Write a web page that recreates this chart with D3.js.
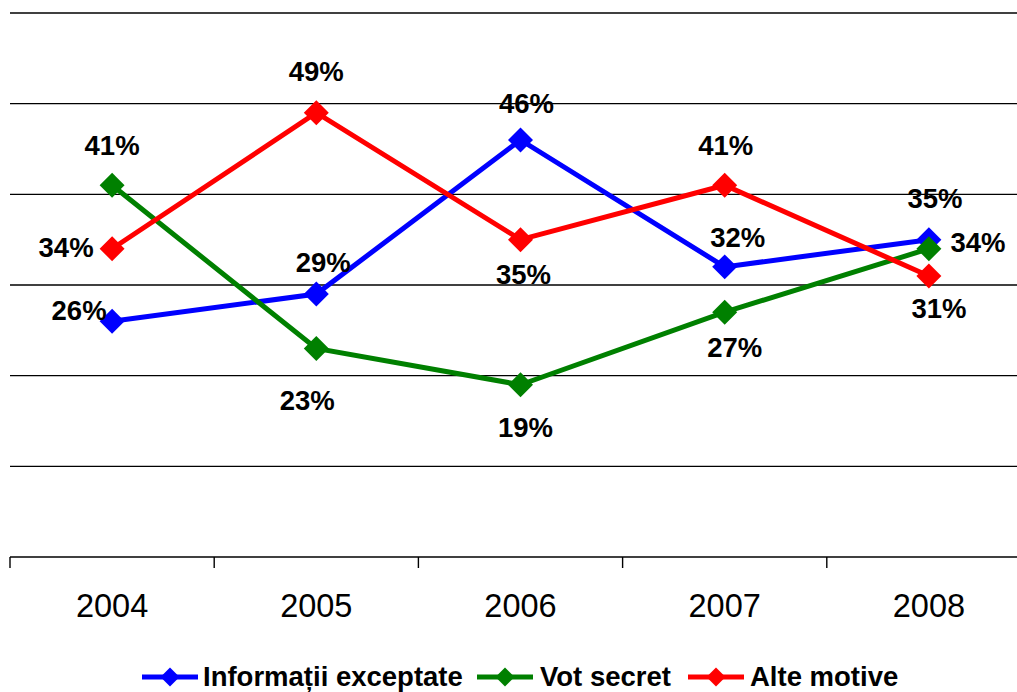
<!DOCTYPE html>
<html>
<head>
<meta charset="utf-8">
<script src="https://cdn.jsdelivr.net/npm/d3@7"></script>
<style>
  html, body { margin: 0; padding: 0; background: #fff; }
  svg { display: block; font-family: Arial, "Liberation Sans", sans-serif; }
</style>
</head>
<body>
<svg id="chart" width="1017" height="692"></svg>
<script>
// ---- data ----
const years = ["2004", "2005", "2006", "2007", "2008"];
const seriesNames = ["Informații exceptate", "Vot secret", "Alte motive"];
const informatiiExceptate = [26, 29, 46, 32, 35];
const votSecret = [41, 23, 19, 27, 34];
const alteMotive = [34, 49, 35, 41, 31];
const yTicks = [0, 10, 20, 30, 40, 50, 60];

// ---- label layout (offset from point: dx, baseline dy) ----
const labelOffsets = [
  [[-33, -1], [7, -22], [6, -27], [13, -20], [6, -32]],
  [[0, -30], [-9, 62], [5, 52], [10, 45], [49, 3]],
  [[-46, 8], [0, -32], [3, 44], [1, -30], [10, 42]]
];
const colors = ["#0000FF", "#008000", "#FF0000"];

const series = [informatiiExceptate, votSecret, alteMotive].map((values, i) => ({
  name: seriesNames[i], values, color: colors[i], offsets: labelOffsets[i]
}));

const svg = d3.select("#chart");
const plot = { left: 10, right: 1031, top: 13, bottom: 557 };

const x = d3.scaleBand().domain(years).range([plot.left, plot.right]).padding(0);
const y = d3.scaleLinear().domain([0, 60]).range([plot.bottom, plot.top]);

// gridlines
svg.append("g").selectAll("line")
  .data(yTicks.filter(t => t > 0))
  .join("line")
  .attr("x1", plot.left).attr("x2", plot.right)
  .attr("y1", d => y(d)).attr("y2", d => y(d))
  .attr("stroke", "#000").attr("stroke-width", 1.4);

// x axis
const xAxis = d3.axisBottom(x).tickSize(0).tickPadding(0);
const gx = svg.append("g").attr("transform", `translate(0,${plot.bottom})`).call(xAxis);
gx.select(".domain").attr("stroke", "#000").attr("stroke-width", 1.4)
  .attr("d", `M${plot.left},0H${plot.right}`);
gx.selectAll(".tick text")
  .attr("y", 60).attr("dy", 0)
  .attr("font-size", 32.5).attr("fill", "#000")
  .attr("font-family", 'Arial, "Liberation Sans", sans-serif');
// band boundary ticks
const boundaries = years.map(d => x(d)).concat([x(years[years.length - 1]) + x.bandwidth()]);
gx.selectAll("line.bt").data(boundaries).join("line").attr("class", "bt")
  .attr("x1", d => d).attr("x2", d => d).attr("y1", 0).attr("y2", 11)
  .attr("stroke", "#000").attr("stroke-width", 1.4);

const cx = d => x(d) + x.bandwidth() / 2;
const line = d3.line().x((d, i) => cx(years[i])).y(d => y(d));
const diamond = d3.symbol(d3.symbolSquare, 312);

series.forEach(s => {
  const g = svg.append("g");
  g.append("path").datum(s.values)
    .attr("d", line).attr("fill", "none")
    .attr("stroke", s.color).attr("stroke-width", 5).attr("stroke-linejoin", "miter");
  g.selectAll("path.m").data(s.values).join("path").attr("class", "m")
    .attr("d", diamond)
    .attr("transform", (d, i) => `translate(${cx(years[i])},${y(d)}) rotate(45)`)
    .attr("fill", s.color);
});

// data labels
series.forEach(s => {
  svg.append("g").selectAll("text").data(s.values).join("text")
    .attr("x", (d, i) => cx(years[i]) + s.offsets[i][0])
    .attr("y", (d, i) => y(d) + s.offsets[i][1])
    .attr("text-anchor", "middle")
    .attr("font-size", 27.5).attr("font-weight", "bold").attr("fill", "#000")
    .text(d => d + "%");
});

// legend
const legendItems = [
  { lx: 142, tx: 203 },
  { lx: 477, tx: 540 },
  { lx: 688, tx: 750 }
];
const lg = svg.append("g");
series.forEach((s, i) => {
  const it = legendItems[i];
  lg.append("line").attr("x1", it.lx).attr("x2", it.lx + 56)
    .attr("y1", 677).attr("y2", 677).attr("stroke", s.color).attr("stroke-width", 5);
  lg.append("path").attr("d", d3.symbol(d3.symbolSquare, 180)())
    .attr("transform", `translate(${it.lx + 28},677) rotate(45)`).attr("fill", s.color);
  lg.append("text").attr("x", it.tx).attr("y", 686)
    .attr("font-size", 27.5).attr("font-weight", "bold").attr("fill", "#000")
    .text(s.name);
});
</script>
</body>
</html>
